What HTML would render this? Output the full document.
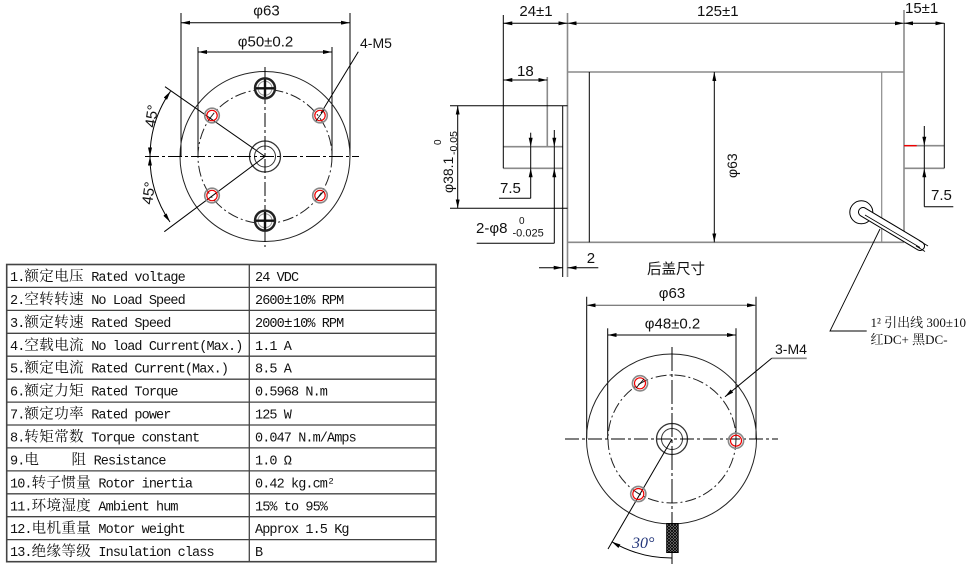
<!DOCTYPE html>
<html><head><meta charset="utf-8"><style>
html,body{margin:0;padding:0;background:#fff;}
svg{display:block;}
.d{font-family:"Liberation Sans","Noto Sans CJK SC",sans-serif;fill:#111;}
.t{font-family:"Liberation Mono","Noto Serif CJK SC",serif;font-size:13.5px;letter-spacing:-0.9px;fill:#111;}
.c{font-size:14.5px;letter-spacing:0.4px;}
</style></head><body>
<svg width="979" height="564" viewBox="0 0 979 564" xmlns="http://www.w3.org/2000/svg">
<defs>
<marker id="ar" viewBox="0 0 9 4" refX="9" refY="2" markerWidth="9" markerHeight="4" markerUnits="userSpaceOnUse" orient="auto-start-reverse"><path d="M0,0L9,2L0,4z" fill="#000"/></marker>
<pattern id="h" width="3" height="3" patternUnits="userSpaceOnUse"><rect width="3" height="3" fill="#999"/><path d="M0,0L3,3M3,0L0,3" stroke="#000" stroke-width="0.9"/></pattern>
</defs>

<!-- ============ FRONT VIEW (top-left) ============ -->
<g fill="none" stroke="#000" stroke-width="1">
  <line x1="181" y1="13" x2="181" y2="156"/>
  <line x1="350" y1="13" x2="350" y2="156"/>
  <line x1="198" y1="47" x2="198" y2="156"/>
  <line x1="332" y1="47" x2="332" y2="156"/>
  <line x1="181" y1="22.7" x2="350" y2="22.7" marker-start="url(#ar)" marker-end="url(#ar)"/>
  <line x1="198" y1="52" x2="332" y2="52" marker-start="url(#ar)" marker-end="url(#ar)"/>
  <circle cx="265" cy="156.5" r="85" stroke="#222"/>
  <circle cx="265" cy="156.5" r="67" stroke="#222" stroke-dasharray="11 3 2 3"/>
  <circle cx="265" cy="156.5" r="15.5" stroke="#333" stroke-width="1.3"/>
  <circle cx="265" cy="156.5" r="10.5" stroke="#333"/>
  <line x1="145" y1="156.5" x2="359" y2="156.5" stroke-dasharray="14 3 3 3"/>
  <line x1="265" y1="67" x2="265" y2="247" stroke-dasharray="14 3 3 3"/>
  <line x1="165" y1="86.7" x2="265" y2="156.5"/>
  <line x1="164.3" y1="231.7" x2="265" y2="156.5"/>
  <path d="M170.5,91.3 A115,115 0 0 0 150,156.5" marker-start="url(#ar)" marker-end="url(#ar)"/>
  <path d="M150,156.5 A115,115 0 0 0 170,222" marker-start="url(#ar)" marker-end="url(#ar)"/>
  <line x1="358.3" y1="51.7" x2="321" y2="113"/>
</g>
<g fill="none">
  <g stroke="#888" stroke-width="1.6">
    <circle cx="212" cy="115.5" r="7.3"/><circle cx="320" cy="115.5" r="7.3"/>
    <circle cx="212" cy="195.5" r="7.3"/><circle cx="320" cy="195.5" r="7.3"/>
  </g>
  <g stroke="#e00" stroke-width="1.2">
    <circle cx="212" cy="115.5" r="5.2"/><circle cx="320" cy="115.5" r="5.2"/>
    <circle cx="212" cy="195.5" r="5.2"/><circle cx="320" cy="195.5" r="5.2"/>
  </g>
  <line x1="316" y1="121" x2="324" y2="110" stroke="#000" stroke-width="0.8"/>
  <line x1="316" y1="200" x2="324" y2="191" stroke="#000" stroke-width="0.8"/>
</g>
<g fill="#fff">
  <circle cx="265" cy="88.3" r="10" stroke="#222" stroke-width="2.4"/>
  <circle cx="265" cy="88.3" r="7" stroke="#999" stroke-width="1" fill="none"/>
  <line x1="256" y1="88.3" x2="274" y2="88.3" stroke="#111" stroke-width="2.4"/>
  <line x1="265" y1="79.5" x2="265" y2="97" stroke="#111" stroke-width="2.4"/>
  <circle cx="265" cy="220.7" r="10" stroke="#222" stroke-width="2.4"/>
  <circle cx="265" cy="220.7" r="7" stroke="#999" stroke-width="1" fill="none"/>
  <line x1="256" y1="220.7" x2="274" y2="220.7" stroke="#111" stroke-width="2.4"/>
  <line x1="265" y1="212" x2="265" y2="229.5" stroke="#111" stroke-width="2.4"/>
</g>
<g class="d">
  <text x="266.5" y="15.5" font-size="15" text-anchor="middle">φ63</text>
  <text x="265.5" y="46.5" font-size="15" text-anchor="middle">φ50±0.2</text>
  <text x="360" y="48" font-size="14">4-M5</text>
  <text transform="translate(155,128) rotate(-82)" font-size="15">45°</text>
  <text transform="translate(152,205) rotate(-82)" font-size="15">45°</text>
</g>

<!-- ============ TABLE ============ -->
<g stroke="#444" stroke-width="1.3" fill="none">
  <rect x="6.7" y="264.5" width="429.3" height="297.2" stroke-width="1.6"/>
  <line x1="249.3" y1="264.5" x2="249.3" y2="561.7"/>
  <line x1="6.7" y1="287.4" x2="436" y2="287.4"/>
  <line x1="6.7" y1="310.4" x2="436" y2="310.4"/>
  <line x1="6.7" y1="333.3" x2="436" y2="333.3"/>
  <line x1="6.7" y1="356.2" x2="436" y2="356.2"/>
  <line x1="6.7" y1="379.2" x2="436" y2="379.2"/>
  <line x1="6.7" y1="402.1" x2="436" y2="402.1"/>
  <line x1="6.7" y1="425.0" x2="436" y2="425.0"/>
  <line x1="6.7" y1="447.9" x2="436" y2="447.9"/>
  <line x1="6.7" y1="470.9" x2="436" y2="470.9"/>
  <line x1="6.7" y1="493.8" x2="436" y2="493.8"/>
  <line x1="6.7" y1="516.7" x2="436" y2="516.7"/>
  <line x1="6.7" y1="539.6" x2="436" y2="539.6"/>
</g>
<g class="t">
  <text x="10" y="281">1.<tspan class="c">额定电压</tspan> Rated voltage</text>
  <text x="10" y="303.9">2.<tspan class="c">空转转速</tspan> No Load Speed</text>
  <text x="10" y="326.9">3.<tspan class="c">额定转速</tspan> Rated Speed</text>
  <text x="10" y="349.8">4.<tspan class="c">空载电流</tspan> No load Current(Max.)</text>
  <text x="10" y="372.7">5.<tspan class="c">额定电流</tspan> Rated Current(Max.)</text>
  <text x="10" y="395.7">6.<tspan class="c">额定力矩</tspan> Rated Torque</text>
  <text x="10" y="418.6">7.<tspan class="c">额定功率</tspan> Rated power</text>
  <text x="10" y="441.5">8.<tspan class="c">转矩常数</tspan> Torque constant</text>
  <text x="10" y="464.4">9.<tspan class="c">电</tspan><tspan x="71.5" class="c">阻</tspan> Resistance</text>
  <text x="10" y="487.4">10.<tspan class="c">转子惯量</tspan> Rotor inertia</text>
  <text x="10" y="510.3">11.<tspan class="c">环境湿度</tspan> Ambient hum</text>
  <text x="10" y="533.2">12.<tspan class="c">电机重量</tspan> Motor weight</text>
  <text x="10" y="556.2">13.<tspan class="c">绝缘等级</tspan> Insulation class</text>

  <text x="255" y="281">24 VDC</text>
  <text x="255" y="303.9">2600<tspan class="c">±</tspan>10% RPM</text>
  <text x="255" y="326.9">2000<tspan class="c">±</tspan>10% RPM</text>
  <text x="255" y="349.8">1.1 A</text>
  <text x="255" y="372.7">8.5 A</text>
  <text x="255" y="395.7">0.5968 N.m</text>
  <text x="255" y="418.6">125 W</text>
  <text x="255" y="441.5">0.047 N.m/Amps</text>
  <text x="255" y="464.4">1.0 Ω</text>
  <text x="255" y="487.4">0.42 kg.cm²</text>
  <text x="255" y="510.3">15% to 95%</text>
  <text x="255" y="533.2">Approx 1.5 Kg</text>
  <text x="255" y="556.2">B</text>
</g>

<!-- ============ SIDE VIEW ============ -->
<g fill="none" stroke-width="1">
  <g stroke="#8a8a8a" stroke-width="1.6">
    <line x1="567.5" y1="13" x2="567.5" y2="277"/>
    <line x1="904" y1="10" x2="904" y2="242.3"/>
    <line x1="567.5" y1="72" x2="904" y2="72"/>
    <line x1="567.5" y1="242.3" x2="904" y2="242.3"/>
    <line x1="881.7" y1="72" x2="881.7" y2="242.3" stroke-width="1.2"/>
    <line x1="503.3" y1="146.7" x2="562.7" y2="146.7"/>
    <line x1="503.3" y1="168.3" x2="562.7" y2="168.3"/>
    <line x1="547.3" y1="77" x2="547.3" y2="146.7"/>
    <line x1="904" y1="145.7" x2="944.3" y2="145.7"/>
    <line x1="904" y1="168.3" x2="944.3" y2="168.3"/>
    <line x1="771.7" y1="358.3" x2="806.7" y2="358.3"/>
  </g>
  <line x1="904" y1="145.7" x2="916.7" y2="145.7" stroke="#e00" stroke-width="1.4"/>
  <g stroke="#000">
    <line x1="589.3" y1="72" x2="589.3" y2="242.3"/>
    <line x1="503.3" y1="15" x2="503.3" y2="168.3"/>
    <line x1="944.3" y1="23" x2="944.3" y2="168.3"/>
    <line x1="562.7" y1="105.7" x2="562.7" y2="277"/>
    <line x1="503.3" y1="23.3" x2="567.5" y2="23.3" marker-start="url(#ar)" marker-end="url(#ar)"/>
    <line x1="567.5" y1="23.3" x2="904" y2="23.3" stroke="#444" marker-start="url(#ar)" marker-end="url(#ar)"/>
    <line x1="904" y1="23.3" x2="944.3" y2="23.3" marker-start="url(#ar)" marker-end="url(#ar)"/>
    <line x1="503.3" y1="80" x2="547.3" y2="80" marker-start="url(#ar)" marker-end="url(#ar)"/>
    <line x1="450" y1="105.7" x2="567.5" y2="105.7"/>
    <line x1="450" y1="208.3" x2="567.5" y2="208.3"/>
    <line x1="457.7" y1="105.7" x2="457.7" y2="208.3" marker-start="url(#ar)" marker-end="url(#ar)"/>
    <line x1="530.7" y1="132.7" x2="530.7" y2="146.7" marker-end="url(#ar)"/>
    <line x1="530.7" y1="198.3" x2="530.7" y2="168.3" marker-end="url(#ar)"/>
    <line x1="530.7" y1="146.7" x2="530.7" y2="168.3"/>
    <line x1="499" y1="198.3" x2="530.7" y2="198.3"/>
    <line x1="554.3" y1="130" x2="554.3" y2="146.7" marker-end="url(#ar)"/>
    <line x1="554.3" y1="243.3" x2="554.3" y2="168.3" marker-end="url(#ar)"/>
    <line x1="554.3" y1="146.7" x2="554.3" y2="168.3"/>
    <line x1="476.7" y1="243.3" x2="554.3" y2="243.3"/>
    <line x1="539" y1="267.7" x2="562.7" y2="267.7" marker-end="url(#ar)"/>
    <line x1="598.3" y1="267.7" x2="567.5" y2="267.7" marker-end="url(#ar)"/>
    <line x1="714.3" y1="72" x2="714.3" y2="242.3" marker-start="url(#ar)" marker-end="url(#ar)"/>
    <line x1="924.3" y1="126" x2="924.3" y2="145.7" marker-end="url(#ar)"/>
    <line x1="924.3" y1="206.7" x2="924.3" y2="168.3" marker-end="url(#ar)"/>
    <line x1="924.3" y1="145.7" x2="924.3" y2="168.3"/>
    <line x1="924.3" y1="206.7" x2="953.3" y2="206.7"/>
    <polyline points="880,229 830,331 866.7,331" stroke-width="0.9"/>
  </g>
  <circle cx="861.3" cy="212.3" r="11.5" stroke="#000" fill="#fff"/>
  <line x1="863" y1="212" x2="920" y2="246" stroke="#000" stroke-width="10" stroke-linecap="round"/>
  <line x1="863" y1="212" x2="920" y2="246" stroke="#fff" stroke-width="8" stroke-linecap="round"/>
  <line x1="865" y1="215" x2="920" y2="247.5" stroke="#000" stroke-width="0.8"/>
  <line x1="919" y1="240.5" x2="928" y2="246" stroke="#000" stroke-width="0.8"/>
  <line x1="916" y1="246" x2="925" y2="251.5" stroke="#000" stroke-width="0.8"/>
</g>
<g class="d">
  <text x="536" y="16" font-size="15" text-anchor="middle">24±1</text>
  <text x="697" y="16" font-size="15">125±1</text>
  <text x="905" y="13" font-size="15">15±1</text>
  <text x="517" y="76" font-size="15">18</text>
  <g transform="translate(453,193) rotate(-90)">
    <text x="0" y="0" font-size="14">φ38.1</text>
    <text x="48" y="-12" font-size="10">0</text>
    <text x="38" y="4" font-size="10.5">-0.05</text>
  </g>
  <text x="500" y="193" font-size="15">7.5</text>
  <text x="476" y="233" font-size="15">2-φ8</text>
  <text x="519" y="224" font-size="10">0</text>
  <text x="512.5" y="236.5" font-size="11">-0.025</text>
  <text x="586.7" y="263" font-size="15">2</text>
  <text x="647" y="274" font-size="14.5">后盖尺寸</text>
  <text transform="translate(737,178) rotate(-90)" font-size="14">φ63</text>
  <text x="931" y="200" font-size="15">7.5</text>
  <text x="870.5" y="327" font-size="13" font-family="Liberation Serif, Noto Serif CJK SC, serif">1² 引出线 300±10</text>
  <text x="870.5" y="344" font-size="13" font-family="Liberation Serif, Noto Serif CJK SC, serif">红DC+ 黑DC-</text>
</g>

<!-- ============ REAR VIEW (bottom) ============ -->
<g fill="none" stroke="#000" stroke-width="1">
  <line x1="586.7" y1="296.7" x2="586.7" y2="439"/>
  <line x1="756" y1="296.7" x2="756" y2="439"/>
  <line x1="607.7" y1="328.3" x2="607.7" y2="439"/>
  <line x1="736" y1="328.3" x2="736" y2="439"/>
  <line x1="586.7" y1="305.3" x2="756" y2="305.3" stroke="#555" marker-start="url(#ar)" marker-end="url(#ar)"/>
  <line x1="607.7" y1="335" x2="736" y2="335" marker-start="url(#ar)" marker-end="url(#ar)"/>
  <circle cx="671.5" cy="439" r="85" stroke="#222"/>
  <circle cx="672" cy="439" r="64" stroke="#222" stroke-dasharray="11 3 2 3"/>
  <circle cx="672" cy="439" r="15.5" stroke="#333" stroke-width="1.3"/>
  <circle cx="672" cy="439" r="10.5" stroke="#333"/>
  <line x1="565" y1="439" x2="778" y2="439" stroke-dasharray="14 3 3 3"/>
  <line x1="672" y1="347" x2="672" y2="564" stroke-dasharray="24 3 3 3"/>
  <line x1="672" y1="439" x2="608" y2="549"/>
  <line x1="771.7" y1="358.3" x2="725" y2="396.7" marker-end="url(#ar)"/>
  <path d="M611.7,541.7 A119,119 0 0 0 672,558" marker-start="url(#ar)"/>
</g>
<g fill="none">
  <g stroke="#888" stroke-width="1.6">
    <circle cx="640" cy="383.3" r="7.6"/><circle cx="736" cy="440.7" r="7.6"/><circle cx="638.3" cy="494" r="7.6"/>
  </g>
  <g stroke="#e00" stroke-width="1.2">
    <circle cx="640" cy="383.3" r="5.5"/><circle cx="736" cy="440.7" r="5.5"/><circle cx="638.3" cy="494" r="5.5"/>
  </g>
  <line x1="636" y1="388" x2="644" y2="379" stroke="#000" stroke-width="0.8"/>
</g>
<rect x="666.7" y="523.5" width="11.5" height="29" fill="url(#h)" stroke="#000" stroke-width="1"/>
<g class="d">
  <text x="672" y="298" font-size="15" text-anchor="middle">φ63</text>
  <text x="672.5" y="328.5" font-size="15" text-anchor="middle">φ48±0.2</text>
  <text x="775" y="354" font-size="14">3-M4</text>
</g>
<text x="632" y="548" font-family="Liberation Serif, serif" font-style="italic" font-size="16" fill="#23367a">30°</text>
</svg>
</body></html>
